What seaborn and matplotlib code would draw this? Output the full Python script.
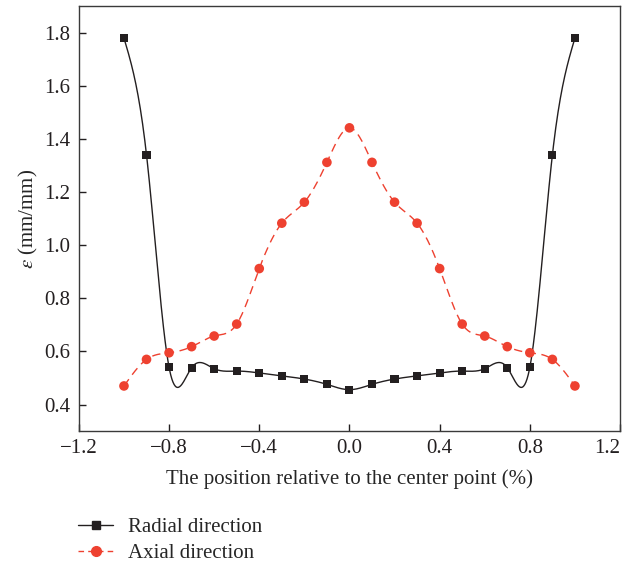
import matplotlib
matplotlib.use("Agg")
import matplotlib.pyplot as plt
from matplotlib.lines import Line2D
import seaborn as sns
import numpy as np
import pandas as pd

# Dados
posicao = [-1.0, -0.9, -0.8, -0.7, -0.6, -0.5, -0.4, -0.3, -0.2, -0.1, 0.0,
           0.1, 0.2, 0.3, 0.4, 0.5, 0.6, 0.7, 0.8, 0.9, 1.0]
radial = [1.78, 1.34, 0.54, 0.539, 0.535, 0.526, 0.519, 0.508, 0.496, 0.476, 0.456,
          0.476, 0.496, 0.508, 0.519, 0.526, 0.535, 0.539, 0.54, 1.34, 1.78]
axial = [0.47, 0.57, 0.595, 0.618, 0.658, 0.703, 0.912, 1.083, 1.162, 1.312, 1.442,
         1.312, 1.162, 1.083, 0.912, 0.703, 0.658, 0.618, 0.595, 0.57, 0.47]

x_ticks = [-1.2, -0.8, -0.4, 0.0, 0.4, 0.8, 1.2]
y_ticks = [0.4, 0.6, 0.8, 1.0, 1.2, 1.4, 1.6, 1.8]


def spline_natural(x, y, xs):
    # spline cúbica natural (como no Origin)
    x = np.asarray(x, float)
    y = np.asarray(y, float)
    n = len(x)
    h = np.diff(x)
    A = np.zeros((n, n))
    b = np.zeros(n)
    A[0, 0] = 1
    A[-1, -1] = 1
    for i in range(1, n - 1):
        A[i, i - 1] = h[i - 1]
        A[i, i] = 2 * (h[i - 1] + h[i])
        A[i, i + 1] = h[i]
        b[i] = 6 * ((y[i + 1] - y[i]) / h[i] - (y[i] - y[i - 1]) / h[i - 1])
    M = np.linalg.solve(A, b)
    idx = np.clip(np.searchsorted(x, xs) - 1, 0, n - 2)
    x0, x1 = x[idx], x[idx + 1]
    hh = x1 - x0
    t0 = x1 - xs
    t1 = xs - x0
    return (M[idx] * t0**3 / (6 * hh) + M[idx + 1] * t1**3 / (6 * hh)
            + (y[idx] / hh - M[idx] * hh / 6) * t0
            + (y[idx + 1] / hh - M[idx + 1] * hh / 6) * t1)


preto = '#231f20'
vermelho = '#ee4130'
fs = 15

sns.set_style("ticks")
plt.rcParams['font.family'] = ['Liberation Serif', 'DejaVu Serif']
plt.rcParams['mathtext.fontset'] = 'stix'

fig = plt.figure(figsize=(6.31, 5.65), dpi=100)
ax = fig.add_axes([0.125, 0.237, 0.8576, 0.752])

xs = np.linspace(-1.0, 1.0, 801)
curvas = pd.DataFrame({
    'x': xs,
    'radial': spline_natural(posicao, radial, xs),
    'axial': spline_natural(posicao, axial, xs),
})
pontos = pd.DataFrame({'x': posicao, 'radial': radial, 'axial': axial})

sns.lineplot(data=curvas, x='x', y='axial', ax=ax, color=vermelho, lw=1.0,
             linestyle=(0, (6, 4)), zorder=2)
sns.lineplot(data=curvas, x='x', y='radial', ax=ax, color=preto, lw=1.0, zorder=2)
sns.scatterplot(data=pontos, x='x', y='axial', ax=ax, color=vermelho, marker='o',
                s=48, edgecolor='none', zorder=3)
sns.scatterplot(data=pontos, x='x', y='radial', ax=ax, color=preto, marker='s',
                s=34, edgecolor='none', zorder=4)

ax.set_xlim(-1.2, 1.2)
ax.set_ylim(0.3, 1.9)
ax.set_xticks(x_ticks)
ax.set_xticklabels(['\u22121.2', '\u22120.8', '\u22120.4', '0.0', '0.4', '0.8', '1.2'])
ax.set_yticks(y_ticks)
ax.set_yticklabels([f'{v:.1f}' for v in y_ticks])
ax.tick_params(direction='in', length=5, width=1, labelsize=fs, colors='#231f20',
               top=False, right=False, pad=6)
# o último rótulo fica encostado na borda, como no original
ax.get_xticklabels()[-1].set_horizontalalignment('right')
for s in ax.spines.values():
    s.set_linewidth(1.0)
    s.set_color('#3a3a3a')

ax.set_xlabel('The position relative to the center point (%)', fontsize=fs,
              labelpad=8)
ax.set_ylabel(r'$\varepsilon$ (mm/mm)', fontsize=fs, labelpad=3)

handles = [
    Line2D([], [], color=preto, lw=1.0, marker='s', markersize=6, label='Radial direction'),
    Line2D([], [], color=vermelho, lw=1.0, linestyle=(0, (4, 3)), marker='o',
           markersize=7, label='Axial direction'),
]
fig.legend(handles=handles, loc='lower left', bbox_to_anchor=(78 / 631, 2 / 565),
           frameon=False, fontsize=fs, handlelength=1.7, handletextpad=0.7,
           labelspacing=0.3, borderpad=0, borderaxespad=0)

fig.savefig('out.png', dpi=100)
